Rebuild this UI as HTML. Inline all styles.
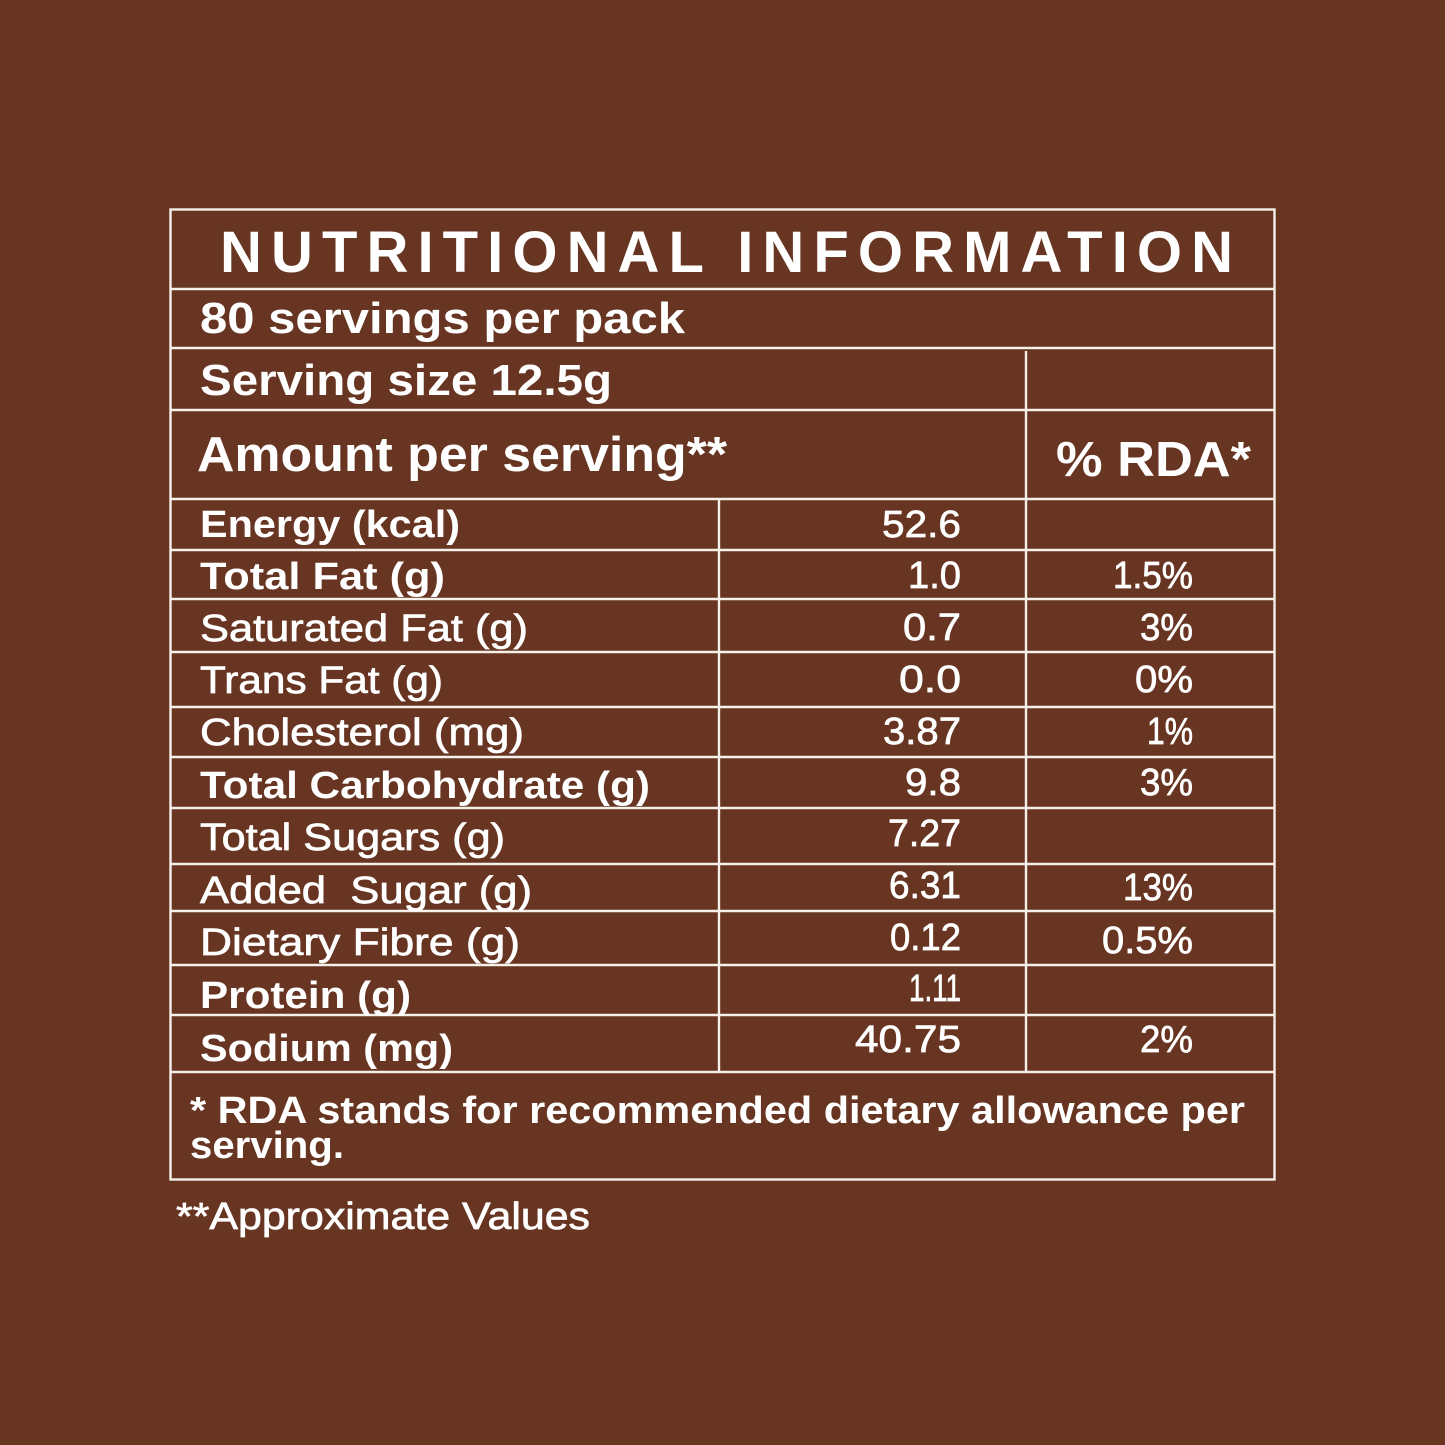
<!DOCTYPE html>
<html>
<head>
<meta charset="utf-8">
<style>
  html,body{margin:0;padding:0;background:#673521;}
  svg{display:block;}
  text{font-family:"Liberation Sans",Arial,sans-serif;fill:#ffffff;}
  .b{font-weight:bold;}
  .m{font-weight:normal;stroke:#ffffff;stroke-width:0.7;}
</style>
</head>
<body>
<svg width="1445" height="1445" viewBox="0 0 1445 1445" xmlns="http://www.w3.org/2000/svg">
  <rect x="0" y="0" width="1445" height="1445" fill="#673521"/>
  <g stroke="#f6f0ea" stroke-width="2.4" fill="none">
    <rect x="170.5" y="209.5" width="1104" height="970"/>
    <line x1="170" y1="289" x2="1275" y2="289"/>
    <line x1="170" y1="348" x2="1275" y2="348"/>
    <line x1="170" y1="410" x2="1275" y2="410"/>
    <line x1="170" y1="499" x2="1275" y2="499"/>
    <line x1="170" y1="550" x2="1275" y2="550"/>
    <line x1="170" y1="599" x2="1275" y2="599"/>
    <line x1="170" y1="652" x2="1275" y2="652"/>
    <line x1="170" y1="707" x2="1275" y2="707"/>
    <line x1="170" y1="757" x2="1275" y2="757"/>
    <line x1="170" y1="808" x2="1275" y2="808"/>
    <line x1="170" y1="864" x2="1275" y2="864"/>
    <line x1="170" y1="911" x2="1275" y2="911"/>
    <line x1="170" y1="965" x2="1275" y2="965"/>
    <line x1="170" y1="1015" x2="1275" y2="1015"/>
    <line x1="170" y1="1072" x2="1275" y2="1072"/>
    <line x1="1026" y1="351" x2="1026" y2="1072"/>
    <line x1="719" y1="499" x2="719" y2="1072"/>
  </g>

  <!-- Header -->
  <text class="b" x="220" y="272" font-size="58" textLength="1013" lengthAdjust="spacing">NUTRITIONAL INFORMATION</text>
  <text class="b" x="200" y="333" font-size="44" textLength="485" lengthAdjust="spacingAndGlyphs">80 servings per pack</text>
  <text class="b" x="200" y="395" font-size="44" textLength="412" lengthAdjust="spacingAndGlyphs">Serving size 12.5g</text>
  <text class="b" x="197" y="471" font-size="49" textLength="530" lengthAdjust="spacingAndGlyphs">Amount per serving**</text>
  <text class="b" x="1056" y="476" font-size="49" textLength="195" lengthAdjust="spacingAndGlyphs">% RDA*</text>

  <!-- Labels -->
  <g font-size="38">
    <text class="b" x="200" y="537" textLength="260" lengthAdjust="spacingAndGlyphs">Energy (kcal)</text>
    <text class="b" x="200" y="589" textLength="245" lengthAdjust="spacingAndGlyphs">Total Fat (g)</text>
    <text class="m" x="200" y="641" textLength="328" lengthAdjust="spacingAndGlyphs">Saturated Fat (g)</text>
    <text class="m" x="200" y="693" textLength="243" lengthAdjust="spacingAndGlyphs">Trans Fat (g)</text>
    <text class="m" x="200" y="745" textLength="324" lengthAdjust="spacingAndGlyphs">Cholesterol (mg)</text>
    <text class="b" x="200" y="798" textLength="450" lengthAdjust="spacingAndGlyphs">Total Carbohydrate (g)</text>
    <text class="m" x="200" y="850" textLength="305" lengthAdjust="spacingAndGlyphs">Total Sugars (g)</text>
    <text class="m" x="200" y="903" textLength="332" lengthAdjust="spacingAndGlyphs" xml:space="preserve">Added  Sugar (g)</text>
    <text class="m" x="200" y="955" textLength="320" lengthAdjust="spacingAndGlyphs">Dietary Fibre (g)</text>
    <text class="b" x="200" y="1008" textLength="211" lengthAdjust="spacingAndGlyphs">Protein (g)</text>
    <text class="b" x="200" y="1061" textLength="253" lengthAdjust="spacingAndGlyphs">Sodium (mg)</text>
  </g>

  <!-- Values -->
  <g font-size="38" text-anchor="end">
    <text class="m" x="961" y="537" textLength="79" lengthAdjust="spacingAndGlyphs">52.6</text>
    <text class="m" x="961" y="588" textLength="53" lengthAdjust="spacingAndGlyphs">1.0</text>
    <text class="m" x="961" y="640" textLength="58" lengthAdjust="spacingAndGlyphs">0.7</text>
    <text class="m" x="961" y="692" textLength="62" lengthAdjust="spacingAndGlyphs">0.0</text>
    <text class="m" x="961" y="744" textLength="78" lengthAdjust="spacingAndGlyphs">3.87</text>
    <text class="m" x="961" y="795" textLength="56" lengthAdjust="spacingAndGlyphs">9.8</text>
    <text class="m" x="961" y="846" textLength="73" lengthAdjust="spacingAndGlyphs">7.27</text>
    <text class="m" x="961" y="898" textLength="72" lengthAdjust="spacingAndGlyphs">6.31</text>
    <text class="m" x="961" y="950" textLength="71" lengthAdjust="spacingAndGlyphs">0.12</text>
    <text class="m" x="961" y="1001" textLength="52" lengthAdjust="spacingAndGlyphs">1.11</text>
    <text class="m" x="961" y="1052" textLength="106" lengthAdjust="spacingAndGlyphs">40.75</text>
  </g>

  <!-- RDA -->
  <g font-size="38" text-anchor="end">
    <text class="m" x="1193" y="588" textLength="80" lengthAdjust="spacingAndGlyphs">1.5%</text>
    <text class="m" x="1193" y="640" textLength="53" lengthAdjust="spacingAndGlyphs">3%</text>
    <text class="m" x="1193" y="692" textLength="58" lengthAdjust="spacingAndGlyphs">0%</text>
    <text class="m" x="1193" y="744" textLength="46" lengthAdjust="spacingAndGlyphs">1%</text>
    <text class="m" x="1193" y="795" textLength="53" lengthAdjust="spacingAndGlyphs">3%</text>
    <text class="m" x="1193" y="900" textLength="70" lengthAdjust="spacingAndGlyphs">13%</text>
    <text class="m" x="1193" y="953" textLength="91" lengthAdjust="spacingAndGlyphs">0.5%</text>
    <text class="m" x="1193" y="1052" textLength="53" lengthAdjust="spacingAndGlyphs">2%</text>
  </g>

  <!-- Footer -->
  <text class="b" x="190" y="1123" font-size="38" textLength="1055" lengthAdjust="spacingAndGlyphs">* RDA stands for recommended dietary allowance per</text>
  <text class="b" x="190" y="1158" font-size="38" textLength="154" lengthAdjust="spacingAndGlyphs">serving.</text>
  <text class="m" x="176" y="1229" font-size="38" stroke-width="0.3" textLength="414" lengthAdjust="spacingAndGlyphs">**Approximate Values</text>
</svg>
</body>
</html>
